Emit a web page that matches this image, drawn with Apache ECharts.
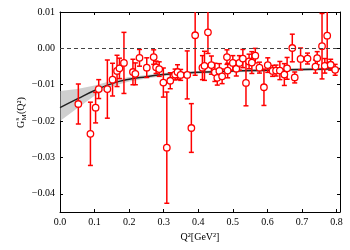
<!DOCTYPE html>
<html>
<head>
<meta charset="utf-8">
<script src="https://cdn.jsdelivr.net/npm/echarts@6/dist/echarts.min.js"></script>
<style>html,body{margin:0;padding:0;background:#fff}#c{width:350px;height:250px}</style>
</head>
<body>
<div id="c"></div>
<script>
// Data points: Q2, G value, error
const q2 = [0.053,0.088,0.103,0.112,0.137,0.152,0.165,0.172,0.185,0.211,0.218,0.230,0.251,0.271,0.278,0.287,0.299,0.309,0.319,0.333,0.340,0.349,0.368,0.380,0.391,0.412,0.418,0.428,0.438,0.448,0.455,0.461,0.469,0.483,0.485,0.500,0.510,0.519,0.529,0.538,0.547,0.555,0.565,0.577,0.590,0.601,0.615,0.625,0.636,0.649,0.657,0.672,0.679,0.696,0.716,0.739,0.744,0.758,0.766,0.773,0.783,0.796];
const gVal = [-0.0153,-0.0235,-0.0163,-0.0112,-0.0112,-0.0086,-0.0062,-0.0055,-0.0040,-0.0065,-0.0070,-0.0026,-0.0053,-0.0024,-0.0052,-0.0057,-0.0094,-0.0273,-0.0089,-0.0072,-0.0065,-0.0073,-0.0073,-0.0219,0.0036,-0.0053,-0.0048,0.0044,-0.0046,-0.0066,-0.0081,-0.0062,-0.0077,-0.0024,-0.0061,-0.0040,-0.0056,-0.0040,-0.0028,-0.0095,-0.0036,-0.0039,-0.0020,-0.0053,-0.0107,-0.0046,-0.0062,-0.0061,-0.0061,-0.0072,-0.0055,0.0001,-0.0080,-0.0029,-0.0028,-0.0050,-0.0027,0.0006,-0.0048,0.0035,-0.0045,-0.0059];
const gErr = [0.0055,0.0087,0.0042,0.0026,0.0080,0.0045,0.0043,0.0028,0.0084,0.0035,0.0030,0.0023,0.0027,0.0020,0.0017,0.0020,0.0040,0.0153,0.0022,0.0015,0.0020,0.0015,0.0066,0.0067,0.0110,0.0033,0.0040,0.0058,0.0025,0.0025,0.0020,0.0020,0.0020,0.0020,0.0020,0.0020,0.0020,0.0020,0.0025,0.0063,0.0020,0.0030,0.0020,0.0015,0.0050,0.0020,0.0015,0.0015,0.0025,0.0030,0.0030,0.0038,0.0015,0.0030,0.0015,0.0018,0.0018,0.0090,0.0020,0.0075,0.0015,0.0015];
// Fit curve and uncertainty band
const fitX = [0,0.05,0.1,0.15,0.2,0.25,0.3,0.4,0.5,0.6,0.7,0.81];
const fitY = [-0.0163,-0.0139,-0.0116,-0.0097,-0.0085,-0.0078,-0.0072,-0.0066,-0.0062,-0.0060,-0.0058,-0.0056];
const bandHi = [-0.0117,-0.0112,-0.0102,-0.0089,-0.0079,-0.0073,-0.0068,-0.0062,-0.0058,-0.0056,-0.0054,-0.0052];
const bandLo = [-0.0200,-0.0165,-0.0130,-0.0105,-0.0091,-0.0083,-0.0076,-0.0070,-0.0066,-0.0064,-0.0062,-0.0060];
// Ticks
const xTicks = [0,0.1,0.2,0.3,0.4,0.5,0.6,0.7,0.8];
const yTicks = [-0.04,-0.03,-0.02,-0.01,0,0.01];

const FONT = '"Liberation Serif", "DejaVu Serif", serif';
const chart = echarts.init(document.getElementById('c'), null, {renderer:'canvas'});
const fmtY = v => { const s = Number(v).toFixed(2); return s.replace('-', '\u2212'); };
const fmtX = v => Number(v).toFixed(1);

const axisCommon = {
  axisLine:{show:true,onZero:false,lineStyle:{color:'#000',width:1}},
  splitLine:{show:false}
};

chart.setOption({
  animation:false,
  grid:{left:60,right:10,top:12,bottom:38},
  xAxis:[
    Object.assign({type:'value',min:0,max:0.81,position:'bottom',
      axisTick:{show:true,inside:true,length:3,customValues:xTicks,lineStyle:{color:'#000'}},
      axisLabel:{show:true,customValues:xTicks,formatter:fmtX,margin:5,color:'#000',fontFamily:FONT,fontSize:10},
      name:'Q\u00b2[GeV\u00b2]',nameLocation:'middle',nameGap:20,
      nameTextStyle:{fontFamily:FONT,fontSize:10,color:'#000'}},axisCommon),
    Object.assign({type:'value',min:0,max:0.81,position:'top',
      axisTick:{show:true,inside:true,length:3,customValues:xTicks,lineStyle:{color:'#000'}},
      axisLabel:{show:false}},axisCommon)
  ],
  yAxis:[
    Object.assign({type:'value',min:-0.045,max:0.01,position:'left',
      axisTick:{show:true,inside:true,length:3,customValues:yTicks,lineStyle:{color:'#000'}},
      axisLabel:{show:true,customValues:yTicks,formatter:fmtY,margin:5,color:'#000',fontFamily:FONT,fontSize:10}},axisCommon),
    Object.assign({type:'value',min:-0.045,max:0.01,position:'right',
      axisTick:{show:true,inside:true,length:3,customValues:yTicks,lineStyle:{color:'#000'}},
      axisLabel:{show:false}},axisCommon)
  ],
  graphic:[{
    type:'group', x:21, y:128, rotation:Math.PI/2,
    children:[
      {type:'text', x:0, y:0, style:{text:'G', font:'10px '+FONT, fill:'#000', textVerticalAlign:'middle'}},
      {type:'text', x:7.5, y:-3.5, style:{text:'s', font:'7px '+FONT, fill:'#000', textVerticalAlign:'middle'}},
      {type:'text', x:7.5, y:3.5, style:{text:'M', font:'7px '+FONT, fill:'#000', textVerticalAlign:'middle'}},
      {type:'text', x:14, y:0, style:{text:'(Q\u00b2)', font:'10px '+FONT, fill:'#000', textVerticalAlign:'middle'}}
    ]
  }],
  series:[
    {
      type:'custom', name:'band', clip:true, z:1,
      data: fitX.map((x,i)=>[x, bandLo[i], bandHi[i]]),
      renderItem:(params, api) => {
        if (params.dataIndex !== 0) return null;
        const pts = [];
        for (let i=0;i<fitX.length;i++) pts.push(api.coord([fitX[i], bandHi[i]]));
        for (let i=fitX.length-1;i>=0;i--) pts.push(api.coord([fitX[i], bandLo[i]]));
        return {type:'polygon', shape:{points:pts}, style:{fill:'rgba(175,175,175,0.6)', stroke:null}};
      }
    },
    {
      type:'line', name:'fit', smooth:true, showSymbol:false, z:2,
      data: fitX.map((x,i)=>[x, fitY[i]]),
      lineStyle:{color:'#222', width:1.5},
      markLine:{silent:true, symbol:'none', label:{show:false},
        lineStyle:{color:'#444', width:1, type:[4,3]},
        data:[{yAxis:0}]}
    },
    {
      type:'custom', name:'err', clip:true, z:3,
      data: q2.map((x,i)=>[x, gVal[i], gErr[i]]),
      renderItem:(params, api) => {
        const x = api.value(0), y = api.value(1), e = api.value(2);
        const t = api.coord([x, y+e]), b = api.coord([x, y-e]);
        const cw = 2.5;
        const st = {stroke:'#ff0000', lineWidth:1.5};
        return {type:'group', children:[
          {type:'line', shape:{x1:t[0],y1:t[1],x2:b[0],y2:b[1]}, style:st},
          {type:'line', shape:{x1:t[0]-cw,y1:t[1],x2:t[0]+cw,y2:t[1]}, style:st},
          {type:'line', shape:{x1:b[0]-cw,y1:b[1],x2:b[0]+cw,y2:b[1]}, style:st}
        ]};
      }
    },
    {
      type:'scatter', name:'pts', z:4,
      data: q2.map((x,i)=>[x, gVal[i]]),
      symbol:'circle', symbolSize:6.5,
      itemStyle:{color:'#ffffff', borderColor:'#ff0000', borderWidth:1.3, opacity:1}
    }
  ]
});
</script>
</body>
</html>
